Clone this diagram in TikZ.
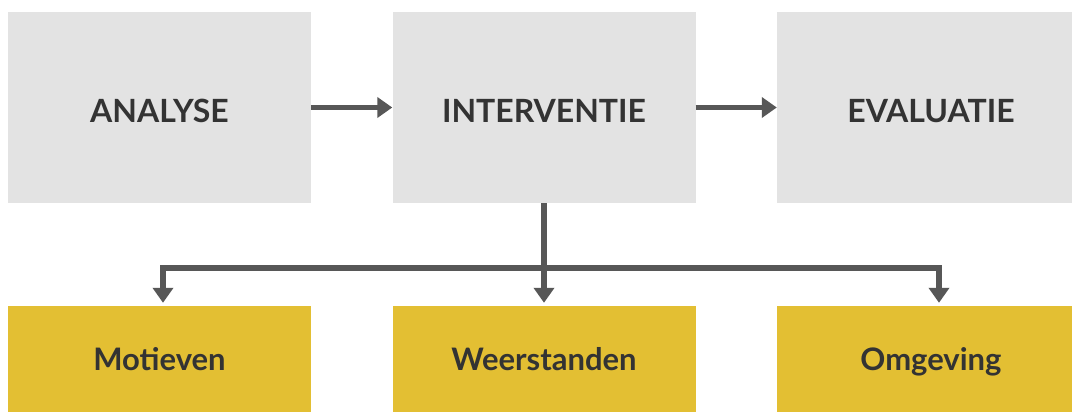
\documentclass[tikz,border=0pt]{standalone}
\usepackage{fontspec}
\setmainfont{Lato}
\usetikzlibrary{arrows.meta}

\definecolor{boxgrey}{HTML}{E3E3E3}
\definecolor{boxyellow}{HTML}{E3BF33}
\definecolor{textgrey}{HTML}{333333}
\definecolor{arrowgrey}{HTML}{575757}

\begin{document}
\begin{tikzpicture}[x=1pt, y=-1pt,
	phase/.style={fill=boxgrey, minimum width=303, minimum height=191, inner sep=0,
		text=textgrey, font=\fontsize{32}{38}\selectfont\bfseries, text height=31pt, text depth=1pt},
	factor/.style={fill=boxyellow, minimum width=303, minimum height=106, inner sep=0,
		text=textgrey, font=\fontsize{31}{37}\selectfont\bfseries, text height=24pt, text depth=2pt},
	flow/.style={draw=arrowgrey, line width=5.5pt, -{Triangle[length=15pt, width=20pt]}}]
	\useasboundingbox[fill=white] (0,0) rectangle (1072,412);
	\clip (0,0) rectangle (1072,412);

	%Phases
	\node[phase] (analyse) at (159.5,107.5) {ANALYSE};
	\node[phase] (interventie) at (544,107.5) {INTERVENTIE};
	\node[phase, minimum width=308] (evaluatie) at (931,107.5) {EVALUATIE};

	%Factors
	\node[factor] (motieven) at (159.5,359) {Motieven};
	\node[factor] (weerstanden) at (544,359) {Weerstanden};
	\node[factor, minimum width=308] (omgeving) at (931,359) {Omgeving};

	%Arrows
	\draw[flow] (analyse) -- (interventie);
	\draw[flow] (interventie) -- (evaluatie);
	\coordinate (split) at (interventie.south |- 0,268);
	\draw[flow, shorten >=3pt] (interventie.south) -- (weerstanden.north);
	\draw[flow, shorten >=3pt] (split) -| ([xshift=3.5]motieven.north);
	\draw[flow, shorten >=3pt] (split) -| ([xshift=8]omgeving.north);
\end{tikzpicture}
\end{document}
